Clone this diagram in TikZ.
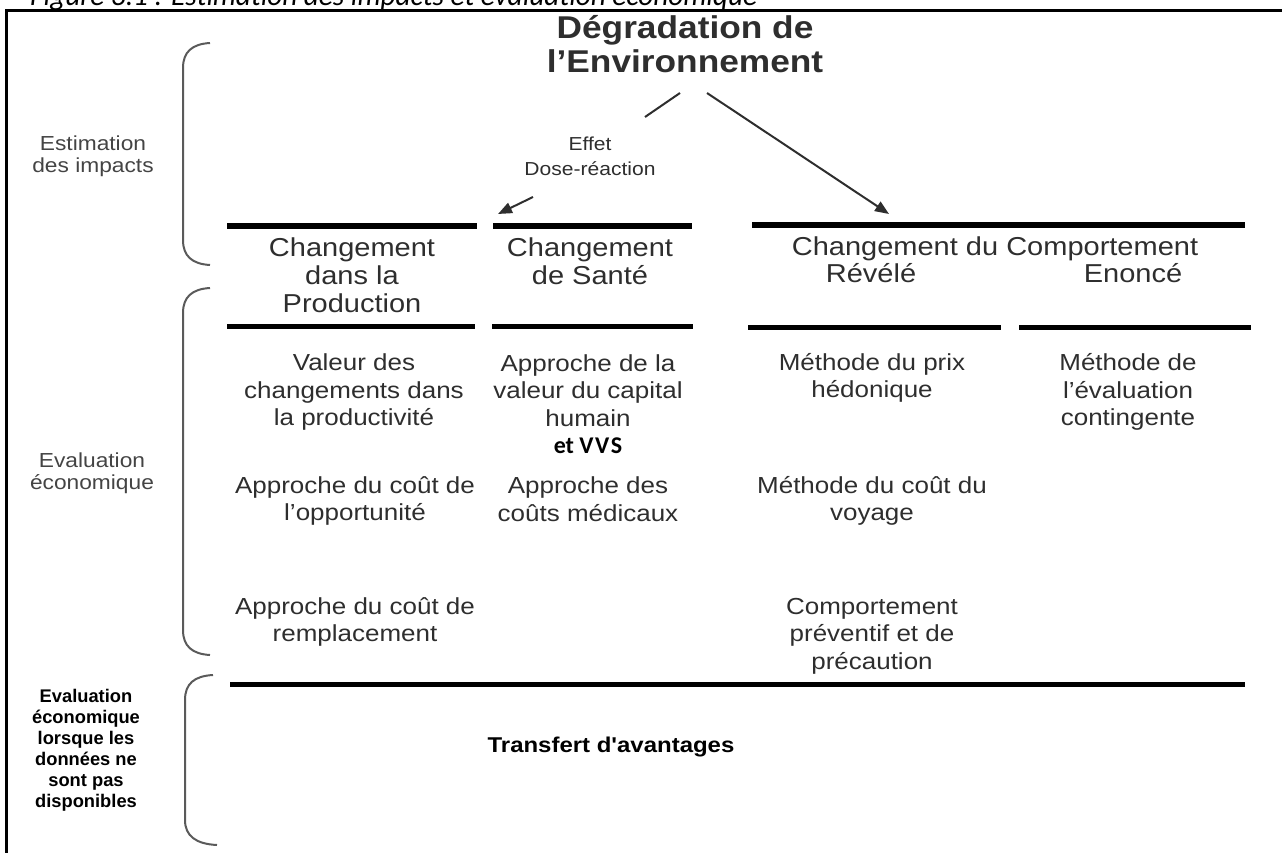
\documentclass[tikz,border=0pt]{standalone}
\usepackage{fontspec}
\setmainfont{Liberation Sans}
\newfontfamily\arfont[FakeStretch=1.12]{Liberation Sans}
\newfontfamily\arplain{Liberation Sans}
\newfontfamily\calfont{Carlito}
\usetikzlibrary{arrows.meta}
\definecolor{txt}{HTML}{2E2E2E}
\definecolor{sidetxt}{HTML}{444444}
\definecolor{brk}{HTML}{5A5A5A}
\tikzset{
  rulebar/.style={line width=5pt, draw=black},
  frameline/.style={line width=3pt, draw=black},
  brk/.style={draw=brk, line width=2pt},
  arr/.style={line width=2pt, draw=txt, -{Triangle[length=14pt,width=11pt]}},
  seg/.style={line width=2pt, draw=txt},
  ttl/.style={font=\arfont\bfseries\fontsize{31.5}{34}\selectfont, align=center, text=txt, inner sep=0pt},
  hdr/.style={font=\arfont\fontsize{25.9}{28}\selectfont, align=center, text=txt, inner sep=0pt},
  val/.style={font=\arfont\fontsize{23.2}{27.5}\selectfont, align=center, text=txt, inner sep=0pt},
  eff/.style={font=\arfont\fontsize{18.8}{25}\selectfont, align=center, text=txt, inner sep=0pt},
  side/.style={font=\arfont\fontsize{20.3}{22}\selectfont, align=center, text=sidetxt, inner sep=0pt},
  sideb/.style={font=\arplain\bfseries\fontsize{18.3}{21}\selectfont, align=center, text=black, inner sep=0pt},
  transf/.style={font=\arfont\bfseries\fontsize{21.4}{25}\selectfont, text=black, inner sep=0pt},
}
\begin{document}
\begin{tikzpicture}[x=1pt,y=-1pt]
\useasboundingbox (0,0) rectangle (1282,853);
% caption (cut at top, as in the reference)
\node[anchor=base west, inner sep=0pt, text=black] (cap) at (30,5.5)
  {\resizebox{727pt}{!}{\calfont\itshape Figure 3.1 : Estimation des impacts et évaluation économique}};
% frame
\draw[frameline] (6,853) -- (6,11) -- (1282,11);
% brackets
\draw[brk] (210,43) .. controls (192,44) and (183,52) .. (183,68) -- (183,240) .. controls (183,256) and (192,264) .. (210,265);
\draw[brk] (210,288) .. controls (192,289) and (183,297) .. (183,313) -- (183,630) .. controls (183,646) and (192,654) .. (210,655);
\draw[brk] (213,675) .. controls (194,676) and (185,684) .. (185,700) -- (185,820) .. controls (185,836) and (196,844) .. (217,845);
% side labels
\node[side] (s1) at (93,156) {Estimation\\des impacts};
\node[side] (s2) at (92,473) {Evaluation\\économique};
\node[sideb] (s3) at (86,750) {Evaluation\\économique\\lorsque les\\données ne\\sont pas\\disponibles};
% title
\node[ttl] (deg) at (685,44) {Dégradation de\\l’Environnement};
\coordinate (srcL) at (680,93);
\coordinate (midL1) at (645,117);
\coordinate (midL2) at (533,197);
\coordinate (tipL) at (498,214);
\coordinate (srcR) at (707,93);
\coordinate (tipR) at (889,214);
\draw[seg] (srcL) -- (midL1);
\draw[arr] (midL2) -- (tipL);
\draw[arr] (srcR) -- (tipR);
\node[eff] (effet) at (590,156) {Effet\\Dose-réaction};
% row 1 rules
\draw[rulebar] (227,226) -- (477,226);
\draw[rulebar] (493,226) -- (692,226);
\draw[rulebar] (752,225) -- (1245,225);
% headers
\node[hdr] (hprod) at (352,275) {Changement\\dans la\\Production};
\node[hdr] (hsante) at (590,261) {Changement\\de Santé};
\node[hdr] (hcomp) at (995,249) {Changement du Comportement};
\node[hdr] (hrev) at (871,273) {Révélé};
\node[hdr] (henon) at (1133,273) {Enoncé};
% row 2 rules
\draw[rulebar] (227,326) -- (475,326);
\draw[rulebar] (492,326) -- (693,326);
\draw[rulebar] (748,327) -- (1001,327);
\draw[rulebar] (1019,327) -- (1251,327);
% values
\node[val] (v11) at (354,392) {Valeur des\\changements dans\\la productivité};
\node[val] (v21) at (588,404) {Approche de la\\valeur du capital\\humain\\{\calfont\bfseries\fontsize{24}{27.5}\selectfont\color{black}et V\kern1.5pt V\kern1.5pt S}};
\node[val] (v31) at (872,378) {Méthode du prix\\hédonique};
\node[val] (v41) at (1128,392) {Méthode de\\l’évaluation\\contingente};
\node[val] (v12) at (355,501) {Approche du coût de\\l’opportunité};
\node[val] (v22) at (588,499) {Approche des\\coûts médicaux};
\node[val] (v32) at (872,501) {Méthode du coût du\\voyage};
\node[val] (v13) at (355,622) {Approche du coût de\\remplacement};
\node[val] (v33) at (872,636) {Comportement\\préventif et de\\précaution};
% bottom rule
\draw[rulebar] (230,684) -- (1245,684);
\node[transf] (tr) at (611,747) {Transfert d'avantages};
\end{tikzpicture}
\end{document}
